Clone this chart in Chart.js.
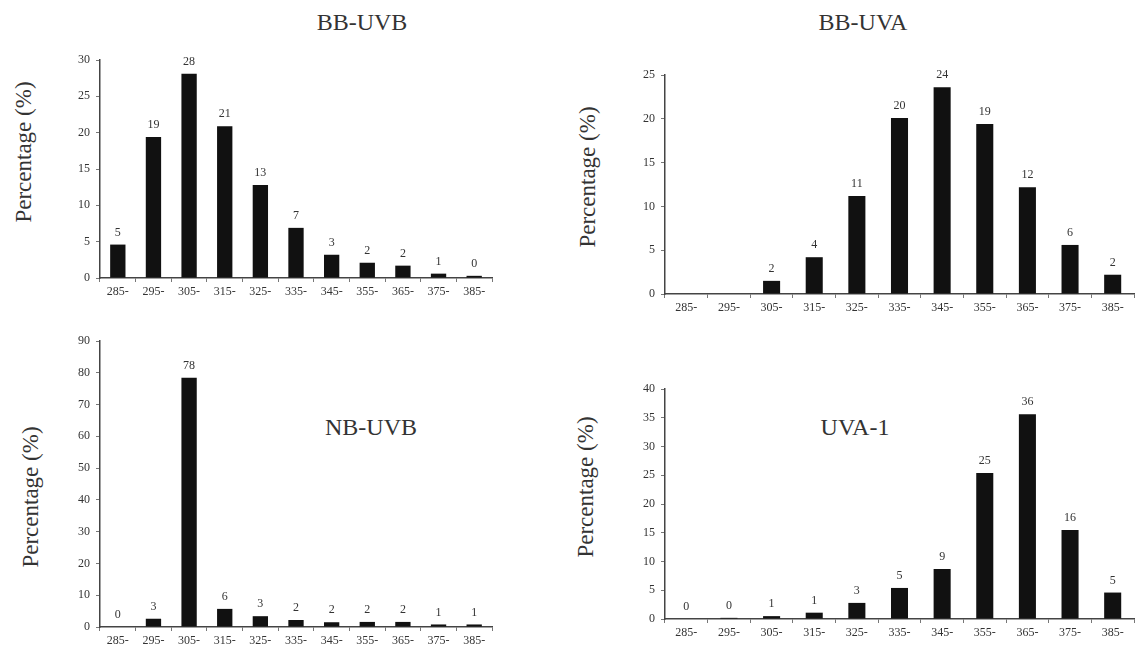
<!DOCTYPE html>
<html>
<head>
<meta charset="utf-8">
<script src="https://cdn.jsdelivr.net/npm/chart.js@4.4.1/dist/chart.umd.min.js"></script>
<style>
  body { margin: 0; background: #fff; }
  #wrap { position: relative; width: 1140px; height: 656px; overflow: hidden; font-family: "Liberation Serif", serif; color: #333; }
  canvas { position: absolute; }
  .txt { position: absolute; transform: translate(-50%, -50%); white-space: nowrap; font-size: 24px; }
  .ytitle { position: absolute; transform: translate(-50%, -50%) rotate(-90deg); white-space: nowrap; font-size: 23px; }
</style>
</head>
<body>
<div id="wrap">
  <div class="txt" style="left:362px; top:22px;">BB-UVB</div>
  <div class="txt" style="left:863px; top:22px;">BB-UVA</div>
  <div class="txt" style="left:371px; top:427px;">NB-UVB</div>
  <div class="txt" style="left:855px; top:427px;">UVA-1</div>
  <div class="ytitle" style="left:24px; top:152px;">Percentage (%)</div>
  <div class="ytitle" style="left:588px; top:177px;">Percentage (%)</div>
  <div class="ytitle" style="left:31px; top:497px;">Percentage (%)</div>
  <div class="ytitle" style="left:586px; top:487px;">Percentage (%)</div>

  <canvas id="bbuvb" width="462" height="263" style="left:40px; top:45px;"></canvas>
  <canvas id="bbuva" width="535" height="264" style="left:605px; top:60px;"></canvas>
  <canvas id="nbuvb" width="462" height="330" style="left:40px; top:326px;"></canvas>
  <canvas id="uva1" width="535" height="275" style="left:605px; top:374px;"></canvas>
</div>
<script>
// wavelength bins (nm)
const bins = ['285-', '295-', '305-', '315-', '325-', '335-', '345-', '355-', '365-', '375-', '385-'];

// BB-UVB
const bbUvbValues = [4.6, 19.4, 28.1, 20.9, 12.8, 6.9, 3.2, 2.1, 1.7, 0.6, 0.3];
const bbUvbLabels = ['5', '19', '28', '21', '13', '7', '3', '2', '2', '1', '0'];

// BB-UVA
const bbUvaValues = [0, 0, 1.5, 4.2, 11.2, 20.1, 23.6, 19.4, 12.2, 5.6, 2.2];
const bbUvaLabels = [null, null, '2', '4', '11', '20', '24', '19', '12', '6', '2'];

// NB-UVB
const nbUvbValues = [0, 2.6, 78.4, 5.7, 3.4, 2.2, 1.5, 1.6, 1.6, 0.8, 0.8];
const nbUvbLabels = ['0', '3', '78', '6', '3', '2', '2', '2', '2', '1', '1'];

// UVA-1
const uva1Values = [0, 0.2, 0.5, 1.1, 2.8, 5.4, 8.7, 25.4, 35.6, 15.5, 4.6];
const uva1Labels = ['0', '0', '1', '1', '3', '5', '9', '25', '36', '16', '5'];

const textColor = '#333';
const serif = '"Liberation Serif", serif';

// numbers above the bars
const valueLabels = {
  id: 'valueLabels',
  afterDatasetsDraw(chart, args, opts) {
    const ctx = chart.ctx;
    const meta = chart.getDatasetMeta(0);
    ctx.save();
    ctx.font = '12px ' + serif;
    ctx.fillStyle = textColor;
    ctx.textAlign = 'center';
    ctx.textBaseline = 'bottom';
    meta.data.forEach((bar, i) => {
      const t = opts.texts[i];
      if (t == null) return;
      ctx.fillText(t, bar.x, bar.y - 6);
    });
    ctx.restore();
  }
};

function makeChart(id, values, texts, max, step, yWidth, padRight, barPct) {
  const config = {
    type: 'bar',
    data: {
      labels: bins,
      datasets: [{
        data: values,
        backgroundColor: '#111',
        barPercentage: barPct,
        categoryPercentage: 1
      }]
    },
    options: {
      responsive: false,
      animation: false,
      devicePixelRatio: 1,
      layout: { padding: { top: 15, right: padRight, bottom: 0, left: 0 } },
      plugins: {
        legend: { display: false },
        tooltip: { enabled: false },
        valueLabels: { texts: texts }
      },
      scales: {
        x: {
          grid: { display: true, drawOnChartArea: false, drawTicks: true, tickLength: 4, color: '#777' },
          border: { color: '#444', width: 1.5, dash: [2, 2] },
          ticks: { color: textColor, font: { family: serif, size: 12 }, maxRotation: 0, padding: 3 },
          afterFit: (s) => { s.height = (id === 'nbuvb') ? 29 : 30; }
        },
        y: {
          min: 0,
          max: max,
          grid: { display: true, drawOnChartArea: false, drawTicks: true, tickLength: 4, color: '#777' },
          border: { color: '#444', width: 1.5, dash: [2, 2] },
          ticks: { stepSize: step, color: textColor, font: { family: serif, size: 12 }, padding: 6 },
          afterFit: (s) => { s.width = yWidth; }
        }
      }
    },
    plugins: [valueLabels]
  };
  return new Chart(document.getElementById(id), config);
}

makeChart('bbuvb', bbUvbValues, bbUvbLabels, 30, 5, 60, 10, 0.43);
makeChart('bbuva', bbUvaValues, bbUvaLabels, 25, 5, 60, 6, 0.40);
makeChart('nbuvb', nbUvbValues, nbUvbLabels, 90, 10, 60, 10, 0.43);
makeChart('uva1', uva1Values, uva1Labels, 40, 5, 60, 6, 0.40);
</script>
</body>
</html>
